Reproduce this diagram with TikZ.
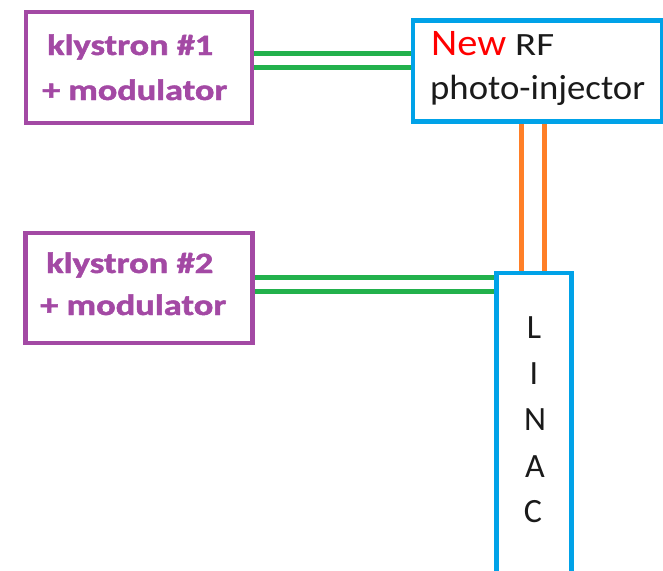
\documentclass[tikz,border=0pt]{standalone}
\usepackage{fontspec}
\setmainfont{Carlito}[BoldFeatures={FakeBold=1.5}]
\usepackage{graphicx}
\definecolor{kpurple}{HTML}{A349A4}
\definecolor{kblue}{HTML}{00A2E8}
\definecolor{kgreen}{HTML}{22B14C}
\definecolor{korange}{HTML}{FF7F27}
\definecolor{kred}{HTML}{FF0000}
\definecolor{ktextc}{HTML}{1A1A1A}
\tikzset{
  box/.style={draw, rectangle, line width=4.8pt, inner sep=0pt, outer sep=2.4pt, anchor=north west},
  kbox/.style={box, draw=kpurple},
  bbox/.style={box, draw=kblue},
  ktext/.style={anchor=base west, inner sep=0pt, text=kpurple, font=\fontsize{29.5}{30}\selectfont\bfseries},
  rtext/.style={anchor=base west, inner sep=0pt, text=ktextc},
  ltext/.style={anchor=base, inner sep=0pt, text=ktextc, font=\fontsize{34}{34}\selectfont},
  gline/.style={draw=kgreen, line width=4.8pt},
  oline/.style={draw=korange, line width=4.8pt}
}
\begin{document}
\begin{tikzpicture}[x=1pt,y=-1pt]
\useasboundingbox (0,0) rectangle (663,570);
% boxes (coordinates at stroke centre)
\node[kbox, minimum width=226pt, minimum height=111pt] (k1) at (23.5,9.5) {};
\node[kbox, minimum width=227pt, minimum height=110pt] (k2) at (23,230.5) {};
\node[bbox, minimum width=249pt, minimum height=101pt] (rf) at (410.5,18) {};
\node[bbox, minimum width=75pt, minimum height=300pt] (linac) at (494,270.5) {};
% texts
\node[ktext] (k1a) at (47,55) {\resizebox{166pt}{\height}{klystron \#1}};
\node[ktext] (k1b) at (42,100) {\resizebox{185pt}{\height}{+ modulator}};
\node[ktext] (k2a) at (46,273) {\resizebox{167pt}{\height}{klystron \#2}};
\node[ktext] (k2b) at (40,315) {\resizebox{186pt}{\height}{+ modulator}};
\node[rtext, text=kred, font=\fontsize{37.5}{38}\selectfont] (new) at (431,55) {\resizebox{75pt}{\height}{New}};
\node[rtext, font=\fontsize{32.5}{33}\selectfont] (rfw) at (515,55) {\resizebox{39pt}{\height}{RF}};
\node[rtext, font=\fontsize{35}{35}\selectfont] (photo) at (430,99) {\resizebox{215pt}{\height}{photo-injector}};
\node[ltext] (l1) at (534,338) {L};
\node[ltext] (l2) at (534,384) {I};
\node[ltext] (l3) at (535,430) {N};
\node[ltext] (l4) at (535,477) {A};
\node[ltext] (l5) at (533,522) {C};
% connectors
\draw[gline] (k1.east |- 0,53.3) -- (rf.west |- 0,53.3);
\draw[gline] (k1.east |- 0,67.3) -- (rf.west |- 0,67.3);
\draw[gline] (k2.east |- 0,277.3) -- (linac.west |- 0,277.3);
\draw[gline] (k2.east |- 0,291.3) -- (linac.west |- 0,291.3);
\draw[oline] (rf.south -| 521.7,0) -- (linac.north -| 521.7,0);
\draw[oline] (rf.south -| 544.3,0) -- (linac.north -| 544.3,0);
\end{tikzpicture}
\end{document}
